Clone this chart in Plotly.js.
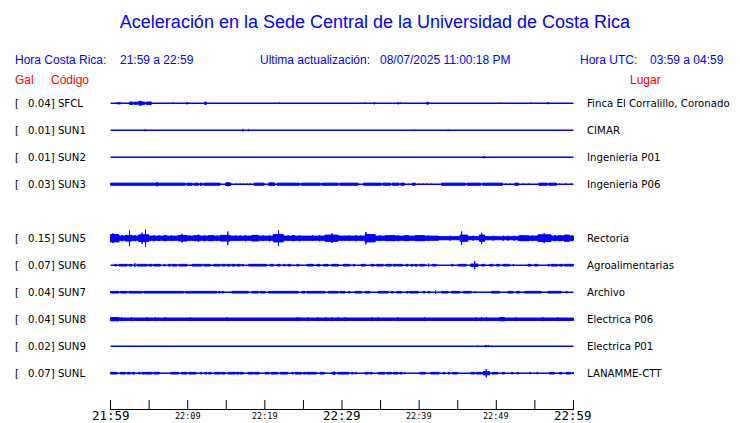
<!DOCTYPE html>
<html><head><meta charset="utf-8">
<script src="https://cdn.plot.ly/plotly-3.0.1.min.js"></script>
<style>html,body{margin:0;padding:0;background:#fff;}#chart{width:740px;height:423px;}</style>
</head><body><div id="chart"></div>
<script>
// ---- DATA ----
const stationCodes = ['SFCL','SUN1','SUN2','SUN3','SUN4','SUN5','SUN6','SUN7','SUN8','SUN9','SUNL'];
const peakGal = [0.04,0.01,0.01,0.03,null,0.15,0.07,0.04,0.04,0.02,0.07];
const places = ['Finca El Corralillo, Coronado','CIMAR','Ingenieria P01','Ingenieria P06',null,'Rectoria','Agroalimentarias','Archivo','Electrica P06','Electrica P01','LANAMME-CTT'];
// time axis: minutes after 21:59 (Costa Rica)
const tickMinutes = [0,5,10,15,20,25,30,35,40,45,50,55,60];
const majorLabels = [[0,'21:59'],[30,'22:29'],[60,'22:59']];
const minorLabels = [[10,'22:09'],[20,'22:19'],[40,'22:39'],[50,'22:49']];
// activity: [start minute, end minute, half-amplitude in Gal]
const act_SFCL = [[0.95,0.95,0.028],[1.21,1.21,0.028],[2.46,2.89,0.028],[3.02,3.53,0.025],[3.66,4.09,0.04],[4.18,4.44,0.028],[4.61,5.3,0.028],[8.1,8.1,0.018],[9.91,9.91,0.028],[12.2,12.4,0.028],[21.9,21.9,0.018],[33.0,33.0,0.018],[34.2,34.2,0.028],[37.3,37.3,0.028],[37.6,37.6,0.018],[41.0,41.2,0.025],[50.5,50.5,0.018],[54.5,54.5,0.018],[56.7,56.7,0.025]];
const act_SUN1 = [[4.48,4.48,0.025],[17.1,17.2,0.025],[17.9,17.9,0.025],[39.35,39.35,0.018],[43.75,43.75,0.018]];
const act_SUN2 = [[48.4,48.4,0.025]];
const act_SUN3 = [[0,9.7,0.026],[6.05,6.05,0.045],[9.9,10.6,0.026],[10.8,11.4,0.026],[11.6,11.9,0.026],[12.1,14.2,0.026],[14.9,15.6,0.03],[15.2,15.2,0.045],[16.3,16.3,0.02],[16.8,16.8,0.02],[17.2,17.2,0.02],[17.7,17.7,0.02],[18.1,18.1,0.02],[18.6,19.9,0.026],[20.5,21.3,0.03],[20.9,20.9,0.04],[21.6,24.5,0.026],[24.7,27.2,0.026],[27.4,29.5,0.026],[29.7,32.1,0.026],[32.8,35.1,0.026],[35.3,36.3,0.026],[36.5,37.4,0.026],[37.6,38.1,0.026],[38.6,38.6,0.02],[39.1,39.5,0.026],[40.0,40.0,0.02],[40.5,40.5,0.02],[41.0,41.0,0.02],[41.5,41.5,0.02],[42.9,46.0,0.026],[46.2,48.0,0.026],[48.2,50.8,0.026],[51.2,51.2,0.02],[51.8,51.8,0.02],[52.4,52.9,0.026],[53.5,53.5,0.02],[54.2,54.2,0.02],[55.5,56.6,0.026],[56.8,57.8,0.026],[58.2,58.2,0.02],[59.0,59.0,0.02],[59.7,59.7,0.02]];
const act_SUN4 = [];
const act_SUN5 = [[0,42.5,0.043],[42.5,52.8,0.034],[52.8,60,0.043],[0,1.1,0.07],[0.3,0.3,0.09],[1.9,2.8,0.055],[2.46,2.46,0.14],[3.66,4.96,0.065],[4.53,4.53,0.15],[4.1,4.1,0.1],[5.6,5.6,0.06],[6.9,7.3,0.05],[8.8,9.9,0.055],[9.27,9.27,0.08],[10.8,11.6,0.05],[11.4,11.4,0.07],[12.7,13.4,0.05],[14.2,15.5,0.055],[15.2,15.2,0.12],[16.8,16.8,0.05],[18.3,19.2,0.055],[21.1,22.4,0.07],[21.77,21.77,0.14],[23.5,23.9,0.05],[25.6,25.6,0.045],[27.8,29.5,0.06],[28.7,28.7,0.09],[30.4,30.4,0.05],[33.0,34.3,0.07],[33.1,33.1,0.11],[35.6,36.9,0.05],[38.1,38.6,0.05],[39.5,40.7,0.05],[45.3,46.3,0.06],[45.5,45.5,0.12],[47.8,48.5,0.06],[48.1,48.1,0.1],[49.6,49.6,0.05],[50.9,50.9,0.05],[53.0,53.9,0.05],[54.1,54.1,0.06],[55.4,57.1,0.065],[56.2,56.2,0.09],[58.0,58.6,0.05],[58.8,59.5,0.06],[1.5,1.5,0.06],[3.2,3.2,0.06],[6.3,6.3,0.055],[7.9,7.9,0.055],[10.2,10.2,0.055],[12.2,12.2,0.06],[13.8,13.8,0.055],[16.2,16.2,0.055],[17.5,17.5,0.06],[19.8,19.8,0.055],[20.6,20.6,0.06],[23.0,23.0,0.055],[24.5,24.5,0.06],[26.2,26.2,0.055],[27.1,27.1,0.06],[30.9,30.9,0.055],[31.8,31.8,0.06],[32.4,32.4,0.055],[34.9,34.9,0.055],[37.3,37.3,0.06],[41.2,41.2,0.055],[44.0,44.0,0.05],[47.0,47.0,0.05],[51.5,51.5,0.05],[52.3,52.3,0.05],[54.7,54.7,0.055],[57.6,57.6,0.06],[59.8,59.8,0.06]];
const act_SUN6 = [[0.56,0.78,0.022],[1.08,2.16,0.022],[2.37,2.8,0.022],[3.15,3.15,0.04],[3.45,4.74,0.022],[4.96,5.39,0.022],[5.6,6.47,0.022],[6.9,7.1,0.022],[7.5,7.8,0.022],[7.97,8.62,0.022],[8.84,9.91,0.022],[10.56,11.85,0.022],[12.07,12.93,0.022],[13.36,14.22,0.022],[14.44,14.87,0.022],[15.09,15.52,0.022],[15.73,16.16,0.022],[16.38,16.81,0.022],[17.03,17.24,0.022],[17.89,20.26,0.022],[20.69,21.12,0.022],[21.55,21.98,0.022],[22.41,22.63,0.022],[22.97,23.36,0.022],[24.14,24.44,0.022],[25.43,26.29,0.022],[26.72,27.16,0.022],[27.59,28.23,0.022],[28.66,29.53,0.022],[30.17,31.03,0.022],[31.47,31.68,0.022],[32.46,33.06,0.022],[33.75,34.18,0.022],[34.48,35.34,0.022],[35.69,36.42,0.022],[36.64,37.07,0.022],[37.2,37.84,0.022],[38.28,38.58,0.022],[38.92,39.22,0.022],[39.44,39.78,0.022],[40.09,40.73,0.022],[41.23,41.23,0.035],[41.72,42.24,0.022],[44.18,44.4,0.022],[45.04,46.12,0.022],[46.68,47.63,0.028],[47.2,47.2,0.075],[48.06,48.49,0.022],[49.14,49.57,0.022],[50.0,50.43,0.022],[50.86,51.72,0.022],[52.16,52.28,0.022],[54.1,54.53,0.022],[54.96,55.39,0.022],[56.68,56.9,0.022],[57.11,57.97,0.022],[58.19,58.62,0.022],[58.84,60,0.022]];
const act_SUN7 = [[0,1.08,0.022],[1.29,2.16,0.022],[2.37,4.09,0.022],[4.31,9.48,0.022],[9.7,13.79,0.022],[14.0,14.22,0.022],[14.44,14.66,0.022],[15.73,17.89,0.022],[18.32,19.18,0.022],[19.4,20.04,0.022],[20.47,24.35,0.022],[24.78,25.22,0.022],[25.43,27.8,0.022],[28.23,29.53,0.022],[29.74,30.39,0.022],[30.82,31.03,0.022],[31.68,32.54,0.022],[32.97,33.62,0.022],[34.7,35.99,0.022],[36.34,36.64,0.022],[37.07,37.72,0.022],[38.36,38.58,0.022],[38.79,39.87,0.022],[40.52,40.73,0.022],[41.16,41.38,0.022],[42.13,42.13,0.035],[42.89,43.75,0.022],[44.18,45.26,0.022],[45.69,46.77,0.022],[47.2,47.28,0.022],[49.35,50.43,0.022],[51.5,52.16,0.022],[52.59,53.02,0.022],[53.66,55.82,0.022],[56.68,58.41,0.022],[59.05,59.18,0.022]];
const act_SUN8 = [[0,60,0.028],[0,1.1,0.035],[0.86,0.86,0.04],[1.42,1.42,0.04],[2.72,2.72,0.04],[4.74,4.74,0.04],[5.82,5.82,0.04],[7.11,7.11,0.04],[10.34,10.34,0.04],[15.09,15.09,0.04],[24.14,24.14,0.04],[24.44,24.44,0.04],[25.65,25.65,0.04],[26.85,26.85,0.04],[27.89,27.89,0.04],[28.66,28.66,0.04],[29.53,29.53,0.04],[30.39,30.39,0.04],[33.84,33.84,0.04],[34.7,34.7,0.04],[37.28,37.28,0.04],[40.73,40.73,0.04],[47.41,47.41,0.04],[48.06,48.06,0.04],[48.71,48.71,0.04],[50.43,51.08,0.035],[52.59,52.59,0.04],[56.03,56.03,0.04],[57.97,57.97,0.04]];
const act_SUN9 = [[2.63,2.63,0.015],[7.16,7.16,0.015],[47.6,47.6,0.018],[48.5,48.8,0.018],[49.0,49.0,0.022]];
const act_SUNL = [[0,0.86,0.022],[1.29,1.94,0.022],[2.16,2.59,0.022],[2.8,3.15,0.022],[3.66,3.88,0.022],[4.09,4.44,0.022],[4.53,5.39,0.022],[5.6,6.34,0.022],[7.76,8.84,0.022],[9.18,9.91,0.022],[10.13,11.08,0.022],[11.64,11.85,0.022],[12.2,12.5,0.022],[12.72,13.06,0.022],[13.49,14.22,0.022],[14.35,14.87,0.022],[15.22,16.16,0.022],[16.29,16.68,0.022],[16.81,17.24,0.022],[17.8,18.53,0.022],[18.66,19.27,0.022],[20.04,20.56,0.022],[20.82,21.68,0.022],[21.98,22.97,0.022],[23.49,23.71,0.022],[23.92,24.78,0.022],[25.0,25.3,0.022],[25.43,26.72,0.022],[27.16,27.72,0.022],[28.66,29.18,0.022],[29.0,29.0,0.035],[29.44,30.91,0.022],[31.25,31.47,0.022],[31.77,31.9,0.022],[32.97,33.41,0.022],[33.62,33.92,0.022],[34.7,35.56,0.022],[35.78,36.42,0.022],[36.64,37.28,0.022],[37.5,37.8,0.022],[38.06,38.15,0.022],[40.09,40.82,0.022],[41.51,42.59,0.022],[43.1,43.32,0.022],[43.75,43.97,0.022],[44.31,44.96,0.022],[46.68,47.2,0.022],[47.41,48.06,0.022],[48.28,49.14,0.035],[48.7,48.7,0.078],[49.44,50.22,0.022],[50.78,51.08,0.022],[51.94,52.16,0.022],[52.72,52.89,0.022],[54.31,54.44,0.022],[55.26,55.39,0.022],[56.9,57.54,0.022],[58.19,58.49,0.022],[59.05,59.61,0.022],[59.91,60,0.022]];
const activity = [act_SFCL,act_SUN1,act_SUN2,act_SUN3,act_SUN4,act_SUN5,act_SUN6,act_SUN7,act_SUN8,act_SUN9,act_SUNL];

// ---- LAYOUT / STYLE ----
const W=740,H=423,ML=110,MR=166,MT=85,MB=14;
const PW=W-ML-MR, PH=H-MT-MB;
const ROW=27;               // px per station row
const yTop = (103.2-MT)/ROW; // range top in row units
const yRange=[-(PH/ROW - yTop), yTop];
const GAIN = 60/ROW;        // y-units per Gal (60 px per Gal)
const OUTLINE = 0.5/ROW;    // half of the 1px outline, in y-units
const TICKLEN = 9/ROW;
const XPAD = 0.07;          // tiny range padding so edge ticks are not clipped
const BLUE='#0000ff', RED='#ff0000';
const PAD=2;                // annotation inner offset (borderpad+border)
const px2x = p => (p-ML)/PW, py2y = p => (H-MB-p)/PH;

const traces=[];
stationCodes.forEach((c,k)=>{
  if(peakGal[k]===null) return;
  const off=-k;
  traces.push({type:'scatter',mode:'lines',x:[0,60],y:[off,off],line:{color:BLUE,width:1.5},hoverinfo:'skip',showlegend:false});
  const xs=[],ys=[];
  activity[k].forEach(([t0,t1,a])=>{
    const h=Math.max(a*GAIN-OUTLINE,0.2/ROW);
    xs.push(t0,t1,t1,t0,t0,null); ys.push(off+h,off+h,off-h,off-h,off+h,null);
  });
  if(xs.length) traces.push({type:'scatter',mode:'lines',x:xs,y:ys,fill:'toself',fillcolor:BLUE,line:{color:BLUE,width:1},hoverinfo:'skip',showlegend:false,connectgaps:false});
});
// time ticks (drawn through the axes, rising from the bottom axis line)
const tx=[],ty=[];
tickMinutes.forEach(m=>{tx.push(m,m,null);ty.push(yRange[0],yRange[0]+TICKLEN,null);});
traces.push({type:'scatter',mode:'lines',x:tx,y:ty,line:{color:'#000',width:1},hoverinfo:'skip',showlegend:false,cliponaxis:false});

const ann=[];
const txt=(text,px,py,font)=>ann.push({text,xref:'paper',yref:'paper',x:px2x(px-PAD),y:py2y(py),xanchor:'left',yanchor:'middle',showarrow:false,font});
const hdr={family:'Liberation Sans, Arial, sans-serif',size:12,color:BLUE};
const red={family:'Liberation Sans, Arial, sans-serif',size:12,color:RED};
txt('Hora Costa Rica:',15,60,hdr); txt('21:59 a 22:59',120,60,hdr);
txt('Ultima actualización:',260,60,hdr); txt('08/07/2025 11:00:18 PM',380,60,hdr);
txt('Hora UTC:',580,60,hdr); txt('03:59 a 04:59',650,60,hdr);
txt('Gal',15,80,red); txt('Código',51,80,red); txt('Lugar',630,80,red);
const lab={family:'DejaVu Sans, sans-serif',size:10.2,color:'#000'};
stationCodes.forEach((c,k)=>{
  if(peakGal[k]===null) return;
  const py=103.2+ROW*k;
  txt('[',15,py,lab);
  txt(peakGal[k].toFixed(2)+'] '+c,27.5,py,lab);
  txt(places[k],587,py,lab);
});
majorLabels.forEach(([m,t])=>ann.push({text:t,xref:'x',yref:'paper',x:m,y:py2y(415.5),yanchor:'middle',xanchor:'center',borderpad:0,showarrow:false,font:{family:'DejaVu Sans Mono, monospace',size:12.5,color:'#000'}}));
minorLabels.forEach(([m,t])=>ann.push({text:t,xref:'x',yref:'paper',x:m,y:py2y(415.5),yanchor:'middle',xanchor:'center',borderpad:0,showarrow:false,font:{family:'DejaVu Sans Mono, monospace',size:8.5,color:'#000'}}));

const layout={
  width:W,height:H,margin:{l:ML,r:MR,t:MT,b:MB,pad:0},
  paper_bgcolor:'#fff',plot_bgcolor:'#fff',showlegend:false,
  title:{text:'Aceleración en la Sede Central de la Universidad de Costa Rica',xref:'container',yref:'container',x:375/W,y:1-22/H,xanchor:'center',yanchor:'middle',font:{family:'Liberation Sans, Arial, sans-serif',size:18,color:BLUE}},
  xaxis:{range:[-XPAD,60+XPAD],showgrid:false,zeroline:false,showline:true,linecolor:'#000',linewidth:1,ticks:'',showticklabels:false,fixedrange:true},
  yaxis:{range:yRange,visible:false,showgrid:false,zeroline:false,fixedrange:true},
  annotations:ann
};
Plotly.newPlot('chart',traces,layout,{staticPlot:true,displayModeBar:false});
</script></body></html>
